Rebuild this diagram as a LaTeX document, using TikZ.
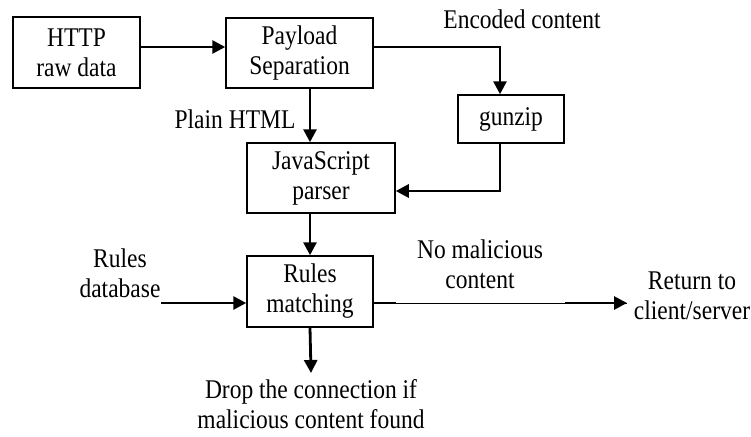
\documentclass[tikz,border=0pt]{standalone}
\usepackage{fontspec}
\setmainfont{Liberation Serif}[FakeStretch=0.87]
\usetikzlibrary{arrows.meta}
\tikzset{
  blk/.style={draw,line width=1.5pt,inner sep=0pt,align=center},
  lbl/.style={inner sep=0pt,align=center},
  flow/.style={line width=2.8pt,-{Triangle[length=13pt,width=13pt]}},
}
\begin{document}
\begin{tikzpicture}[x=1pt,y=-1pt,font=\fontsize{27}{30}\selectfont]
\useasboundingbox(0,0)rectangle(751,436);
% blocks
\node[blk,minimum width=127pt,minimum height=71pt](http)at(76.5,52.5){HTTP\\raw data};
\node[blk,minimum width=147pt,minimum height=70pt](payload)at(299.5,53){Payload\\Separation};
\node[blk,minimum width=106pt,minimum height=48pt](gunzip)at(511,119){gunzip};
\node[blk,minimum width=148pt,minimum height=70pt](js)at(321,178){JavaScript\\parser};
\node[blk,minimum width=126pt,minimum height=71pt](rules)at(310,291.5){Rules\\matching};
% labels
\node[lbl](enc)at(522,19){Encoded content};
\node[lbl](plain)at(235,119){Plain HTML};
\node[lbl](db)at(120,273){Rules\\database};
\node[lbl](nomal)at(480,264){No malicious\\content};
\node[lbl](ret)at(692,296){Return to\\client/server};
\node[lbl](drop)at(311,404){Drop the connection if\\malicious content found};
\coordinate(dbend)at(161,303);
\coordinate(outend)at(627,303);
\coordinate(dropend)at(311,373);
% connectors
\draw[flow]([yshift=5.5pt]http.east)--([yshift=5.5pt]http.east-|payload.west);
\draw[flow]([yshift=6pt]payload.east)-|([xshift=-11pt]gunzip.north);
\draw[flow]([xshift=-11pt]gunzip.south)|-([yshift=-13pt]js.east);
\draw[flow]([xshift=10.5pt]payload.south)--([xshift=10.5pt]payload.south|-js.north);
\draw[flow](rules.north|-js.south)--(rules.north);
\draw[flow](dbend)--(dbend-|rules.west);
\draw[line width=1pt](dbend-|rules.east)--(outend);
\draw[line width=2.8pt](dbend-|rules.east)--++(22,0);
\draw[flow]([xshift=-62pt]outend)--(outend);
\draw[flow](rules.south)--(dropend);
\end{tikzpicture}
\end{document}
